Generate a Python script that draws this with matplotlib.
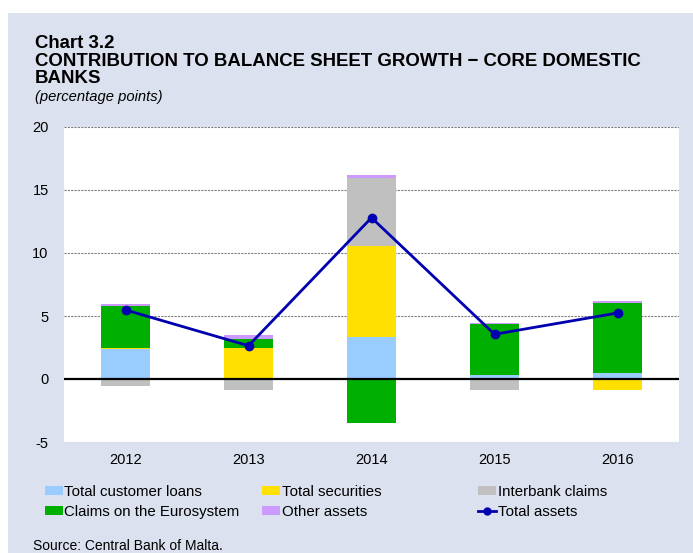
import matplotlib
matplotlib.use('Agg')
import matplotlib.pyplot as plt
import matplotlib as mpl
import numpy as np
from matplotlib.patches import Rectangle, Patch
from matplotlib.lines import Line2D

mpl.rcParams['font.family'] = ['Liberation Sans', 'DejaVu Sans']
mpl.rcParams['axes.unicode_minus'] = False

# data (percentage points)
years = ['2012', '2013', '2014', '2015', '2016']
loans = [2.35, 0.0, 3.33, 0.32, 0.48]
securities = [0.15, 2.43, 7.25, 0.0, -0.9]
interbank = [-0.58, -0.87, 5.4, -0.85, 0.0]
claims = [3.3, 0.72, -3.47, 4.05, 5.58]
other = [0.18, 0.32, 0.22, 0.05, 0.13]
total = [5.48, 2.64, 12.8, 3.55, 5.24]

series = [
    ('Total customer loans', loans, '#99CCFF'),
    ('Total securities', securities, '#FFE000'),
    ('Interbank claims', interbank, '#C0C0C0'),
    ('Claims on the Eurosystem', claims, '#00B000'),
    ('Other assets', other, '#CC99FF'),
]
line_col = '#0000B0'
bg = '#DBE1EE'

W, H = 693, 553
fig = plt.figure(figsize=(W / 100, H / 100), dpi=100)
fig.patch.set_facecolor('white')
fig.patches.append(Rectangle((8 / W, 0), 1 - 8 / W, 1 - 13 / H, transform=fig.transFigure,
                             facecolor=bg, edgecolor='none', zorder=-10))

ax = fig.add_axes([64 / W, 111 / H, 615 / W, 315 / H])
ax.set_facecolor('white')

x = np.arange(len(years))
pos_bottom = np.zeros(len(years))
neg_bottom = np.zeros(len(years))
for name, vals, col in series:
    v = np.array(vals)
    b = np.where(v >= 0, pos_bottom, neg_bottom)
    ax.bar(x, v, 0.4, bottom=b, color=col, edgecolor='none', zorder=2)
    pos_bottom += np.where(v >= 0, v, 0)
    neg_bottom += np.where(v < 0, v, 0)

ax.plot(x, total, color=line_col, lw=2, marker='o', markersize=6, zorder=4)
ax.axhline(0, color='black', lw=1.6, zorder=3)

ax.set_xlim(-0.5, len(years) - 0.5)
ax.set_ylim(-5, 20)
ax.set_yticks([-5, 0, 5, 10, 15, 20])
ax.set_xticks(x)
ax.set_xticklabels(years)
for yv in [-5, 5, 10, 15, 20]:
    ax.axhline(yv, color='#808080', lw=0.8, linestyle=(0, (2, 1)), zorder=1)
for s in ax.spines.values():
    s.set_visible(False)
ax.tick_params(axis='y', length=0, pad=11, labelsize=10.5)
ax.tick_params(axis='x', length=0, pad=8, labelsize=10.5)

# titles
fig.text(35 / W, 1 - 43 / H, 'Chart 3.2', fontsize=13.4, fontweight='bold', va='center')
fig.text(35 / W, 1 - 61 / H, 'CONTRIBUTION TO BALANCE SHEET GROWTH \u2212 CORE DOMESTIC',
         fontsize=13.4, fontweight='bold', va='center')
fig.text(35 / W, 1 - 79 / H, 'BANKS', fontsize=13.4, fontweight='bold', va='center')
fig.text(35 / W, 1 - 97 / H, '(percentage points)', fontsize=10.6, style='italic', va='center')

# legend in three columns
h = {name: Patch(facecolor=col, edgecolor='none') for name, vals, col in series}
h['Total assets'] = Line2D([], [], color=line_col, lw=2, marker='o', markersize=5)
cols = [(45, ['Total customer loans', 'Claims on the Eurosystem']),
        (262, ['Total securities', 'Other assets']),
        (478, ['Interbank claims', 'Total assets'])]
for xp, names in cols:
    fig.legend([h[n] for n in names], names, loc='upper left',
               bbox_to_anchor=(xp / W, 1 - 485 / H), frameon=False, fontsize=10.8,
               handlelength=1.2, handleheight=0.55, handletextpad=0.1,
               borderpad=0, borderaxespad=0, labelspacing=0.4)

fig.text(33 / W, 1 - 546 / H, 'Source: Central Bank of Malta.', fontsize=10, va='center')

fig.savefig('out.png', dpi=100, facecolor=fig.get_facecolor())
